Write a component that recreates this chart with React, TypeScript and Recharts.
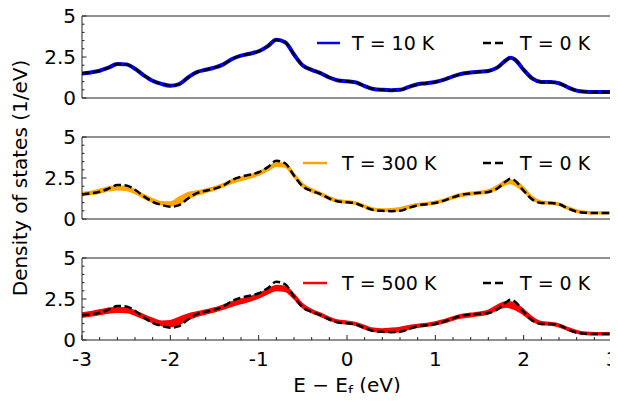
import { Area, ComposedChart, Line, ReferenceArea, XAxis, YAxis } from "recharts";

// energy grid (eV, relative to E_f)
const ENERGY = [
  -3.0, -2.9, -2.8, -2.7, -2.6, -2.5, -2.4, -2.3, -2.2, -2.1, -2.0, -1.9, -1.8, -1.7, -1.6, -1.5,
  -1.4, -1.3, -1.2, -1.1, -1.0, -0.9, -0.8, -0.7, -0.6, -0.5, -0.4, -0.3, -0.2, -0.1, 0.0, 0.1,
  0.2, 0.3, 0.4, 0.5, 0.6, 0.7, 0.8, 0.9, 1.0, 1.1, 1.2, 1.3, 1.4, 1.5, 1.6, 1.7, 1.8, 1.85, 1.9,
  2.0, 2.1, 2.2, 2.3, 2.4, 2.5, 2.6, 2.7, 2.8, 2.9, 3.0,
];

const DOS_0K = [
  1.5, 1.56, 1.66, 1.85, 2.07, 2.05, 1.78, 1.38, 1.05, 0.86, 0.75, 0.85, 1.25, 1.58, 1.72, 1.85,
  2.05, 2.38, 2.58, 2.7, 2.85, 3.15, 3.55, 3.4, 2.65, 1.98, 1.72, 1.52, 1.25, 1.07, 1.02, 0.95,
  0.73, 0.55, 0.5, 0.48, 0.5, 0.68, 0.84, 0.9, 0.98, 1.12, 1.32, 1.48, 1.55, 1.6, 1.65, 1.85, 2.3, 2.45, 2.35,
  1.72, 1.18, 0.98, 0.97, 0.9, 0.65, 0.45, 0.38, 0.36, 0.36, 0.36,
];

// 10 K is indistinguishable from 0 K at this scale
const DOS_10K = [
  1.5, 1.56, 1.66, 1.85, 2.07, 2.05, 1.78, 1.38, 1.05, 0.86, 0.75, 0.85, 1.25, 1.58, 1.72, 1.85,
  2.05, 2.38, 2.58, 2.7, 2.85, 3.15, 3.55, 3.4, 2.65, 1.98, 1.72, 1.52, 1.25, 1.07, 1.02, 0.95,
  0.73, 0.55, 0.5, 0.48, 0.5, 0.68, 0.84, 0.9, 0.98, 1.12, 1.32, 1.48, 1.55, 1.6, 1.65, 1.85, 2.3, 2.45, 2.35,
  1.72, 1.18, 0.98, 0.97, 0.9, 0.65, 0.45, 0.38, 0.36, 0.36, 0.36,
];

const DOS_300K_LO = [
  1.45, 1.52, 1.62, 1.75, 1.82, 1.78, 1.6, 1.3, 1.05, 0.9, 0.82, 0.95, 1.25, 1.5, 1.65, 1.8,
  2.0, 2.22, 2.38, 2.52, 2.7, 2.98, 3.25, 3.2, 2.6, 1.98, 1.68, 1.47, 1.22, 1.05, 1.0, 0.93,
  0.72, 0.55, 0.5, 0.5, 0.55, 0.68, 0.82, 0.88, 0.97, 1.1, 1.28, 1.42, 1.5, 1.55, 1.62, 1.85, 2.15, 2.2, 2.1,
  1.7, 1.2, 0.98, 0.95, 0.86, 0.63, 0.45, 0.37, 0.35, 0.35, 0.35,
];
const DOS_300K_HI = [
  1.58, 1.65, 1.78, 1.92, 1.98, 1.95, 1.75, 1.45, 1.2, 1.02, 1.0, 1.3, 1.58, 1.68, 1.78, 1.92,
  2.12, 2.38, 2.52, 2.65, 2.85, 3.12, 3.4, 3.35, 2.72, 2.1, 1.8, 1.57, 1.32, 1.14, 1.08, 1.0,
  0.8, 0.63, 0.58, 0.6, 0.66, 0.8, 0.9, 0.96, 1.05, 1.18, 1.38, 1.52, 1.6, 1.65, 1.74, 2.0, 2.3, 2.35, 2.3,
  1.88, 1.32, 1.06, 1.02, 0.94, 0.7, 0.52, 0.43, 0.4, 0.4, 0.4,
];

const DOS_500K_LO = [
  1.42, 1.5, 1.58, 1.68, 1.72, 1.7, 1.55, 1.32, 1.1, 0.92, 0.85, 0.98, 1.28, 1.48, 1.62, 1.75,
  1.92, 2.1, 2.25, 2.4, 2.6, 2.85, 3.05, 3.0, 2.55, 2.0, 1.7, 1.48, 1.25, 1.07, 1.02, 0.92,
  0.72, 0.56, 0.5, 0.5, 0.55, 0.68, 0.8, 0.88, 0.96, 1.08, 1.25, 1.38, 1.45, 1.52, 1.62, 1.88, 2.05, 2.0, 1.9,
  1.58, 1.18, 0.98, 0.94, 0.84, 0.62, 0.45, 0.37, 0.35, 0.35, 0.35,
];
const DOS_500K_HI = [
  1.62, 1.7, 1.8, 1.9, 1.95, 1.92, 1.75, 1.5, 1.28, 1.12, 1.15, 1.35, 1.55, 1.68, 1.8, 1.92,
  2.1, 2.3, 2.45, 2.6, 2.8, 3.05, 3.3, 3.25, 2.75, 2.15, 1.82, 1.6, 1.35, 1.17, 1.12, 1.02,
  0.84, 0.68, 0.64, 0.68, 0.74, 0.84, 0.92, 0.98, 1.07, 1.2, 1.38, 1.52, 1.6, 1.66, 1.78, 2.08, 2.3, 2.28, 2.2,
  1.82, 1.35, 1.08, 1.03, 0.94, 0.72, 0.54, 0.44, 0.41, 0.41, 0.41,
];

const X_TICKS = [
  -3, -2.8, -2.6, -2.4, -2.2, -2, -1.8, -1.6, -1.4, -1.2, -1, -0.8, -0.6, -0.4, -0.2, 0,
  0.2, 0.4, 0.6, 0.8, 1, 1.2, 1.4, 1.6, 1.8, 2, 2.2, 2.4, 2.6, 2.8, 3,
];
const X_MAJOR = [-3, -2, -1, 0, 1, 2, 3];
const Y_TICKS = [0, 0.5, 1, 1.5, 2, 2.5, 3, 3.5, 4, 4.5, 5];
const Y_MAJOR = [0, 2.5, 5];

const W = 618;
const LEFT = 82;
const RIGHT = 6;
const PLOT_H = 82;
const FONT = "'DejaVu Sans', sans-serif";
const AXIS = "#222";

const rows = ENERGY.map((e, i) => ({
  e,
  t0: DOS_0K[i],
  t10: DOS_10K[i],
  t300: [DOS_300K_LO[i], DOS_300K_HI[i]],
  t500: [DOS_500K_LO[i], DOS_500K_HI[i]],
}));

function YTick({ y, payload }: any) {
  const v = payload.value;
  const major = Y_MAJOR.includes(v);
  return (
    <g>
      <line x1={LEFT} x2={LEFT + (major ? 4.5 : 2.5)} y1={y} y2={y} stroke={AXIS} />
      {major && (
        <text x={LEFT - 6} y={y} dy="0.36em" textAnchor="end" fontSize={20} fontFamily={FONT} fill="#000">
          {String(v)}
        </text>
      )}
    </g>
  );
}

function makeXTick(bottom: number) {
  return ({ x, payload }: any) => {
    const v = payload.value;
    const major = X_MAJOR.includes(v);
    return (
      <g>
        <line x1={x} x2={x} y1={bottom} y2={bottom - (major ? 5 : 3)} stroke={AXIS} />
        {major && (
          <text x={x} y={bottom + 19} dy="0.36em" textAnchor="middle" fontSize={20} fontFamily={FONT} fill="#000">
            {String(v)}
          </text>
        )}
      </g>
    );
  };
}

type PanelProps = {
  top: number;
  height: number;
  marginTop: number;
  showX?: boolean;
  band?: "t300" | "t500";
  bandColor?: string;
  line?: boolean;
};

function Panel({ top, height, marginTop, showX, band, bandColor, line }: PanelProps) {
  const axisH = showX ? 1 : 0;
  const marginBottom = height - marginTop - PLOT_H - axisH;
  return (
    <div style={{ position: "absolute", left: 0, top }}>
      <ComposedChart
        width={W}
        height={height}
        data={rows}
        margin={{ top: marginTop, right: RIGHT, left: LEFT - 1, bottom: marginBottom }}
      >
        <XAxis
          dataKey="e"
          type="number"
          domain={[-3, 3]}
          allowDataOverflow
          ticks={X_TICKS}
          interval={0}
          hide={!showX}
          height={1}
          axisLine={false}
          tickLine={false}
          tick={makeXTick(marginTop + PLOT_H)}
        />
        <YAxis
          type="number"
          domain={[0, 5]}
          allowDataOverflow
          ticks={Y_TICKS}
          interval={0}
          width={1}
          axisLine={false}
          tickLine={false}
          tick={(p: any) => <YTick {...p} />}
        />
        {band && (
          <Area
            dataKey={band}
            type="monotone"
            stroke={bandColor}
            strokeWidth={2.5}
            fill={bandColor}
            fillOpacity={1}
            dot={false}
            activeDot={false}
            isAnimationActive={false}
          />
        )}
        {line && (
          <Line dataKey="t10" type="monotone" stroke="#0000ff" strokeWidth={4} dot={false} activeDot={false} isAnimationActive={false} />
        )}
        <Line
          dataKey="t0"
          type="monotone"
          stroke="#000"
          strokeWidth={2.5}
          strokeDasharray="7.5 3.5"
          dot={false}
          activeDot={false}
          isAnimationActive={false}
        />
        <ReferenceArea x1={-3} x2={3} y1={0} y2={5} fill="none" stroke={AXIS} strokeWidth={1} />
      </ComposedChart>
    </div>
  );
}

const LEGENDS = [
  { y: 43, color: "#0000ff", x0: 317, x1: 340, tx: 352, label: "T = 10 K" },
  { y: 163, color: "#ffa500", x0: 303, x1: 327, tx: 342, label: "T = 300 K" },
  { y: 283, color: "#ff0000", x0: 303, x1: 327, tx: 342, label: "T = 500 K" },
];

function Overlay() {
  return (
    <svg width={W} height={401} style={{ position: "absolute", left: 0, top: 0, pointerEvents: "none" }}>
      {LEGENDS.map((l) => (
        <g key={l.label} fontFamily={FONT} fontSize={19} fill="#000">
          <line x1={l.x0} x2={l.x1} y1={l.y} y2={l.y} stroke={l.color} strokeWidth={2.5} />
          <text x={l.tx} y={l.y} dy="0.36em">{l.label}</text>
          <line x1={483} x2={503} y1={l.y} y2={l.y} stroke="#000" strokeWidth={2.5} strokeDasharray="8 4" />
          <text x={520} y={l.y} dy="0.36em">T = 0 K</text>
        </g>
      ))}
      <text
        transform="translate(20,178) rotate(-90)"
        textAnchor="middle"
        dy="0.36em"
        fontFamily={FONT}
        fontSize={20}
        fill="#000"
      >
        Density of states (1/eV)
      </text>
      <text x={347} y={392} textAnchor="middle" fontFamily={FONT} fontSize={20} fill="#000">
        E − E<tspan fontSize={14} dy={4}>f</tspan>
        <tspan dy={-4}> (eV)</tspan>
      </text>
    </svg>
  );
}

export default function App() {
  return (
    <div style={{ position: "relative", width: W, height: 401, margin: -8, background: "#fff" }}>
      <Panel top={0} height={113} marginTop={16} line />
      <Panel top={113} height={121} marginTop={24} band="t300" bandColor="#ffa500" />
      <Panel top={234} height={167} marginTop={24} showX band="t500" bandColor="#ff0000" />
      <Overlay />
    </div>
  );
}
